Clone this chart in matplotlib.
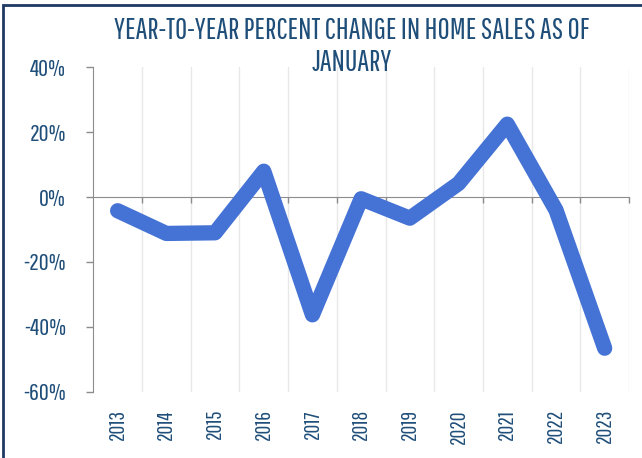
import matplotlib
matplotlib.use('Agg')
import matplotlib.pyplot as plt
from matplotlib import font_manager
from matplotlib.patches import Rectangle
from matplotlib.ticker import FixedLocator, NullFormatter

years = ['2013', '2014', '2015', '2016', '2017', '2018', '2019', '2020', '2021', '2022', '2023']
pct_change = [-4.2, -11.2, -11.0, 8.0, -36.3, -0.5, -6.5, 4.2, 22.5, -4.0, -46.6]
y_ticks = [-60, -40, -20, 0, 20, 40]
title = 'YEAR-TO-YEAR PERCENT CHANGE IN HOME SALES AS OF\nJANUARY'

# pick a narrow font that is close to the original condensed face
available = set(f.name for f in font_manager.fontManager.ttflist)
font = 'DejaVu Sans'
for cand in ['Pathway Gothic One', 'Saira Extra Condensed', 'Oswald', 'Open Sans Condensed']:
    if cand in available:
        font = cand
        break
plt.rcParams['font.family'] = [font, 'DejaVu Sans']

text_color = '#1F4E79'
line_color = '#4573D5'
axis_color = '#8C8C8C'

fig = plt.figure(figsize=(6.42, 4.58), dpi=100)
ax = fig.add_axes([0.1453, 0.1448, 0.8345, 0.708])

x = list(range(len(years)))
ax.plot(x, pct_change, color=line_color, lw=11, solid_joinstyle='round',
        solid_capstyle='round', zorder=3)

ax.set_xlim(-0.5, len(years) - 0.5)
ax.set_ylim(-60, 40)

# category boundaries -> grid and ticks on the zero line
bounds = [i + 0.5 for i in range(len(years))]
ax.xaxis.set_major_locator(FixedLocator(bounds))
ax.xaxis.set_major_formatter(NullFormatter())
ax.grid(axis='x', color='#E8E8E8', lw=1, zorder=0)
ax.tick_params(axis='x', direction='out', length=4.3, color=axis_color, width=1)
ax.spines['bottom'].set_position(('data', 0))
ax.spines['bottom'].set_color(axis_color)
ax.spines['left'].set_color(axis_color)
ax.spines['top'].set_visible(False)
ax.spines['right'].set_visible(False)

ax.set_yticks(y_ticks)
ax.set_yticklabels([f'{v}%' for v in y_ticks])
ax.tick_params(axis='y', direction='out', length=5, color=axis_color, width=1,
               labelsize=17.5, labelcolor=text_color, pad=14.5)

# year labels at the bottom of the plot
sec = ax.secondary_xaxis('bottom')
sec.set_xticks(x)
sec.set_xticklabels(years, rotation=90, va='top', ha='center')
sec.tick_params(length=0, labelsize=15.5, labelcolor=text_color, pad=12.5)
sec.spines['bottom'].set_visible(False)

fig.text(0.548, 0.966, title, ha='center', va='top', color=text_color,
         fontsize=21.3, linespacing=1.15)

fig.patches.append(Rectangle((0.005, -0.1), 1.2, 1.089, transform=fig.transFigure,
                             fill=False, edgecolor='#1F3864', lw=2))

fig.savefig('out.png', dpi=100)
